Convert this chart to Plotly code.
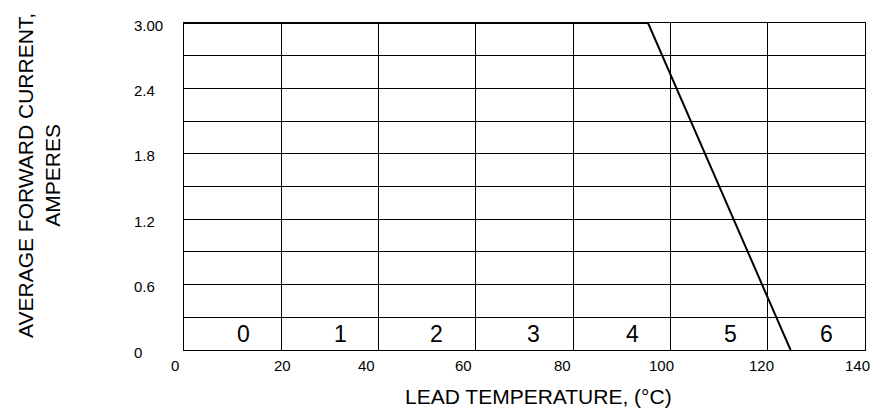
import plotly.graph_objects as go

# Data
temp_c = [0, 95.4, 124.7]
current_a = [3.0, 3.0, 0.0]

x_tick_vals = [0, 20, 40, 60, 80, 100, 120, 140]
x_tick_text = ["0", "20", "40", "60", "80", "100", "120", "140"]
y_grid = [0.3 * i for i in range(11)]
y_tick_vals = [0, 0.6, 1.2, 1.8, 2.4, 3.0]
y_tick_text = ["0", "0.6", "1.2", "1.8", "2.4", "3.00"]

zone_labels = ["0", "1", "2", "3", "4", "5", "6"]
zone_x = [12.3, 32.1, 52.0, 71.9, 92.2, 112.3, 132.0]
zone_y = 0.15

# style: small horizontal nudges (px) of x tick labels, as in the reference
x_label_nudge = [-9, 1, -12, -12, -11, -9, -6, -8]

FONT = "Liberation Sans, Arial, sans-serif"

fig = go.Figure()
fig.add_trace(go.Scatter(x=temp_c, y=current_a, mode="lines",
                         line=dict(color="black", width=2),
                         showlegend=False, hoverinfo="skip", cliponaxis=False))

annotations = []
for lab, xv in zip(zone_labels, zone_x):
    annotations.append(dict(x=xv, y=zone_y, xref="x", yref="y", text=lab,
                            showarrow=False, font=dict(size=23, color="black", family=FONT)))
for v, t in zip(y_tick_vals, y_tick_text):
    annotations.append(dict(x=-0.076, y=v, xref="paper", yref="y", text=t,
                            xanchor="left", yanchor="middle", yshift=-2,
                            showarrow=False, font=dict(size=15, color="black", family=FONT)))
for v, t, dx in zip(x_tick_vals, x_tick_text, x_label_nudge):
    annotations.append(dict(x=v, y=0, xref="x", yref="paper", text=t,
                            xanchor="center", yanchor="middle", yshift=-15, xshift=dx,
                            showarrow=False, font=dict(size=15, color="black", family=FONT)))
annotations.append(dict(x=0.521, y=0, xref="paper", yref="paper",
                        text="LEAD TEMPERATURE, (°C)", xanchor="center", yanchor="middle",
                        yshift=-46.5, showarrow=False,
                        font=dict(size=21, color="black", family=FONT)))
annotations.append(dict(x=-0.213, y=0.535, xref="paper", yref="paper",
                        text="AVERAGE FORWARD CURRENT,<br>AMPERES", textangle=-90,
                        showarrow=False, xanchor="center", yanchor="middle",
                        font=dict(size=21, color="black", family=FONT)))

fig.update_layout(
    width=871, height=413,
    margin=dict(l=184, r=6, t=23, b=63),
    paper_bgcolor="white", plot_bgcolor="white",
    font=dict(family=FONT, color="black"),
    annotations=annotations,
    xaxis=dict(range=[0, 140], tickvals=x_tick_vals, showticklabels=False, showgrid=True,
               gridcolor="black", gridwidth=1, showline=True, linecolor="black",
               linewidth=1, mirror=True, zeroline=False, ticks=""),
    yaxis=dict(range=[0, 3.0], tickvals=y_grid, showticklabels=False, showgrid=True,
               gridcolor="black", gridwidth=1, showline=True, linecolor="black",
               linewidth=1, mirror=True, zeroline=False, ticks=""),
)

fig.write_html("out.html", config={"displayModeBar": False},
               post_script="document.body.style.margin='0';document.body.style.padding='0';")
